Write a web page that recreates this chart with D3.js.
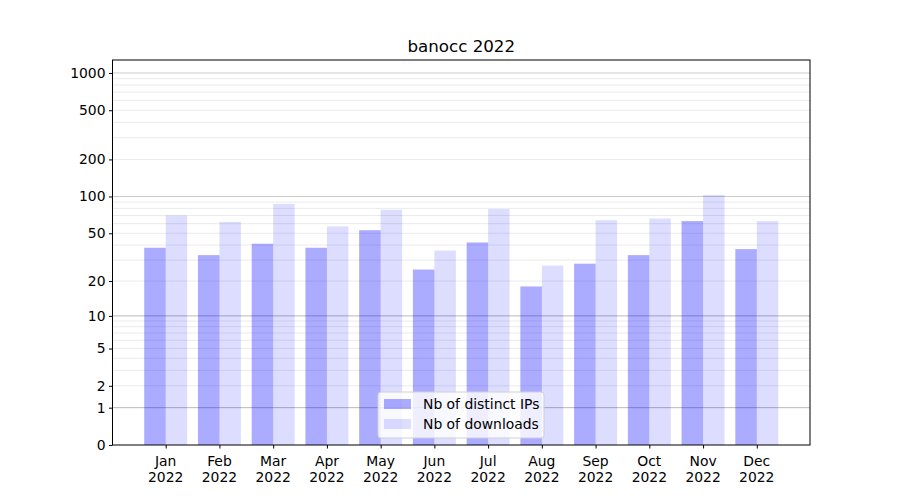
<!DOCTYPE html>
<html><head><meta charset="utf-8">
<script src="https://cdn.jsdelivr.net/npm/d3@7"></script>
<style>body{margin:0;background:#fff;} text{font-family:"DejaVu Sans",sans-serif;fill:#000;}</style>
</head><body>
<svg id="c" width="900" height="500"></svg>
<script>
const months = ["Jan","Feb","Mar","Apr","May","Jun","Jul","Aug","Sep","Oct","Nov","Dec"];
const year = "2022";
const distinctIPs = [38,33,41,38,53,25,42,18,28,33,63,37];
const downloads = [70,62,87,57,78,36,79,27,64,66,103,63];
const yTicks = [0,1,2,5,10,20,50,100,200,500,1000];
const majorGrid = [1,10,100,1000];
const minorGrid = [2,3,4,5,6,7,8,9,20,30,40,50,60,70,80,90,200,300,400,500,600,700,800,900];
const seriesNames = ["Nb of distinct IPs","Nb of downloads"];
const title = "banocc 2022";

const svg = d3.select("#c");
const L=112.5, R=810, T=60, B=445;
const FS = "13.9px";
const x = d3.scaleLinear().domain([-0.99, 11.99]).range([L,R]);
const y = d3.scaleSymlog().constant(1).domain([0,1273]).range([B,T]);
const bw = 0.4;

const g = svg.append("g");
g.selectAll(".mg").data(minorGrid).enter().append("line")
 .attr("x1",L).attr("x2",R).attr("y1",d=>y(d)).attr("y2",d=>y(d))
 .attr("stroke","#ebebeb").attr("stroke-width",1);
g.selectAll(".Mg").data(majorGrid).enter().append("line")
 .attr("x1",L).attr("x2",R).attr("y1",d=>y(d)).attr("y2",d=>y(d))
 .attr("stroke",d=>d<=10?"#b8b8b8":"#cccccc").attr("stroke-width",1);

g.selectAll(".b1").data(distinctIPs).enter().append("rect")
 .attr("x",(d,i)=>x(i-bw)).attr("width",(d,i)=>x(i)-x(i-bw))
 .attr("y",d=>y(d)).attr("height",d=>y(0)-y(d))
 .attr("fill","blue").attr("fill-opacity",0.33);
g.selectAll(".b2").data(downloads).enter().append("rect")
 .attr("x",(d,i)=>x(i)).attr("width",(d,i)=>x(i+bw)-x(i))
 .attr("y",d=>y(d)).attr("height",d=>y(0)-y(d))
 .attr("fill","blue").attr("fill-opacity",0.135);

svg.append("rect").attr("x",L).attr("y",T).attr("width",R-L).attr("height",B-T)
 .attr("fill","none").attr("stroke","#000").attr("stroke-width",1);

const ya = svg.append("g").attr("transform",`translate(${L},0)`)
 .call(d3.axisLeft(y).tickValues(yTicks).tickFormat(d3.format("d")).tickSize(3.5).tickPadding(3.5));
ya.select(".domain").remove();
ya.selectAll("text").style("font-size",FS);

const xa = svg.append("g").attr("transform",`translate(0,${B})`)
 .call(d3.axisBottom(x).tickValues(d3.range(months.length)).tickFormat("").tickSize(3.5));
xa.select(".domain").remove();
const xl = svg.append("g");
months.forEach((m,i)=>{
  const t = xl.append("text").attr("x",x(i)).attr("y",B+21).attr("text-anchor","middle").style("font-size",FS);
  t.append("tspan").attr("x",x(i)).text(m);
  t.append("tspan").attr("x",x(i)).attr("dy","16").text(year);
});

svg.append("text").attr("x",(L+R)/2).attr("y",T-8).attr("text-anchor","middle").style("font-size","16.7px").text(title);

const lg = svg.append("g").attr("transform","translate(378,392)");
lg.append("rect").attr("width",166).attr("height",46).attr("rx",3)
 .attr("fill","#fff").attr("fill-opacity",0.8).attr("stroke","#d0d0d0");
const op=[0.33,0.135];
seriesNames.forEach((n,i)=>{
  lg.append("rect").attr("x",6).attr("y",7+i*20).attr("width",27).attr("height",10)
   .attr("fill","blue").attr("fill-opacity",op[i]);
  lg.append("text").attr("x",45).attr("y",17+i*20).style("font-size",FS).text(n);
});
</script>
</body></html>
